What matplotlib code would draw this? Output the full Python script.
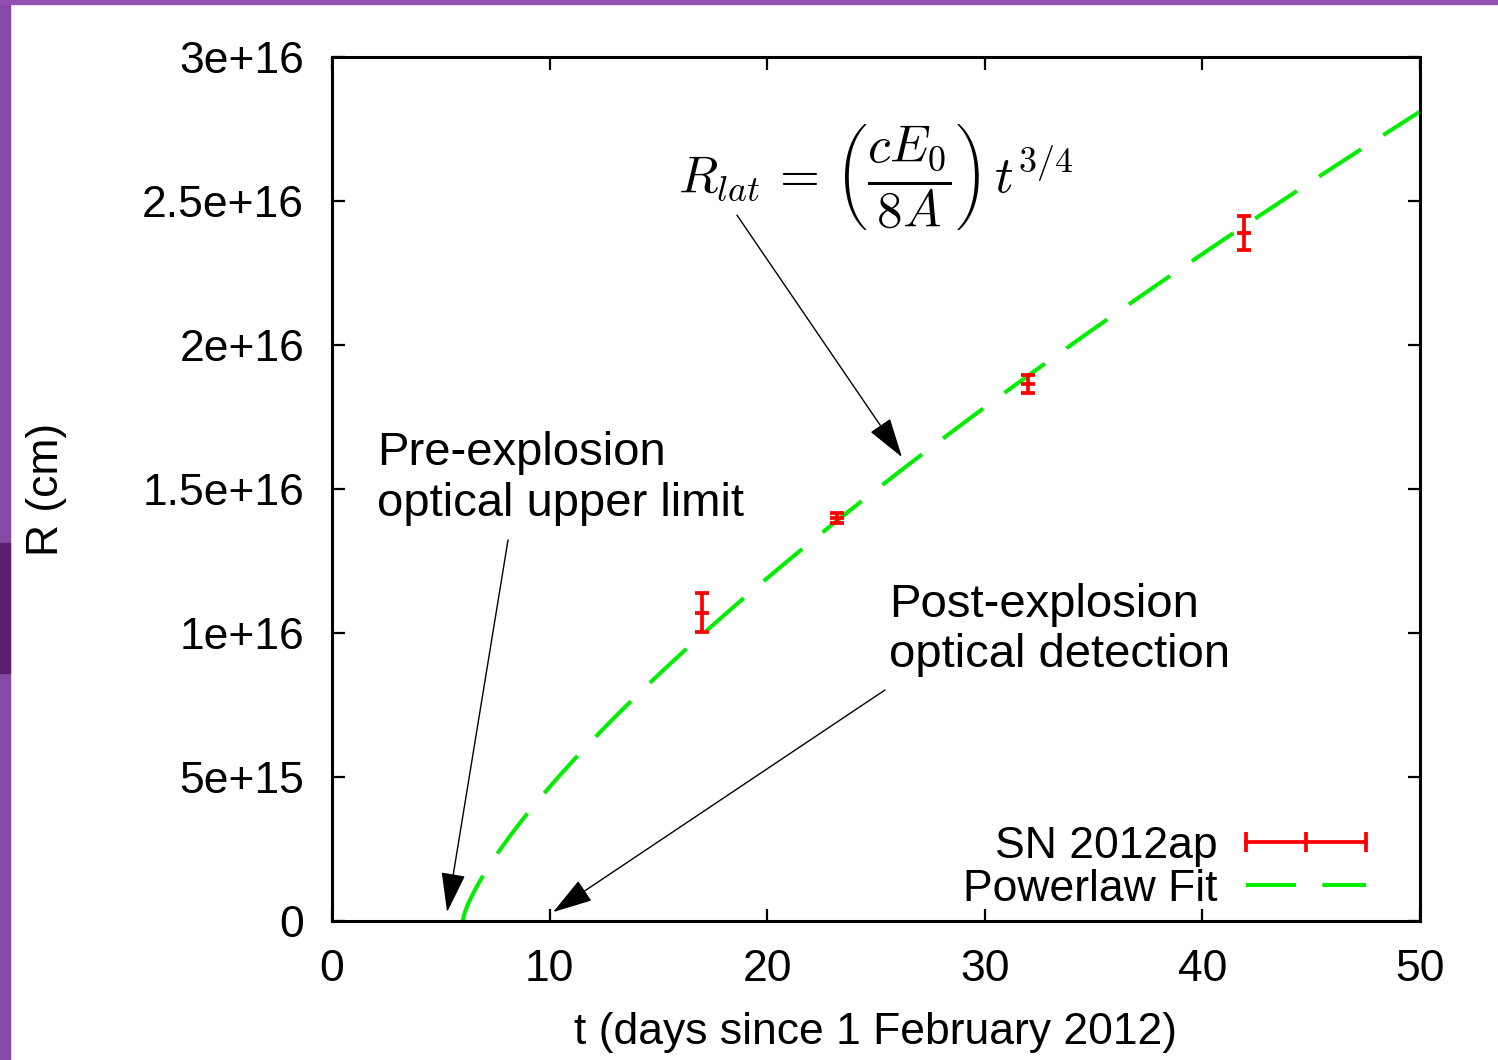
import matplotlib
matplotlib.use("Agg")
import matplotlib.pyplot as plt
import numpy as np
from matplotlib.lines import Line2D
from matplotlib.patches import Rectangle

plt.rcParams['font.family'] = ['Liberation Sans', 'DejaVu Sans']
plt.rcParams['mathtext.fontset'] = 'cm'
plt.rcParams['lines.scale_dashes'] = False

# SN 2012ap radius measurements
t_days = [17.0, 23.2, 32.0, 41.9]
radius = [1.07e16, 1.40e16, 1.865e16, 2.39e16]
radius_err = [6.8e14, 1.8e14, 3.2e14, 5.9e14]

# powerlaw fit R = K (t - t0)^(3/4)
fit_t0 = 6.0
fit_K = 1.645e15
fit_index = 0.75

x_ticks = [0, 10, 20, 30, 40, 50]
y_ticks = [0, 5e15, 1e16, 1.5e16, 2e16, 2.5e16, 3e16]
y_tick_labels = ["0", "5e+15", "1e+16", "1.5e+16", "2e+16", "2.5e+16", "3e+16"]

fig = plt.figure(figsize=(14.98, 10.6), dpi=100)
fig.patches.append(Rectangle((0, 0), 10 / 1498, 1, transform=fig.transFigure, color="#8a48a6", zorder=-5))
fig.patches.append(Rectangle((0, 1 - 4 / 1060), 1, 4 / 1060, transform=fig.transFigure, color="#9450b0", zorder=-5))
fig.patches.append(Rectangle((0, 1 - 673 / 1060), 10 / 1498, 130 / 1060, transform=fig.transFigure, color="#5c1f6e", zorder=-4))

ax = fig.add_axes([332 / 1498, 1 - 921 / 1060, 1088 / 1498, 864 / 1060])

tt = np.linspace(fit_t0, 50, 400)
fit_line, = ax.plot(tt, fit_K * (tt - fit_t0) ** fit_index, color="#00ee00", lw=2.9,
                    dashes=[36, 19], label="Powerlaw Fit", zorder=2)

ax.errorbar(t_days, radius, yerr=radius_err, fmt="none", ecolor="red", elinewidth=2.7,
            capsize=5, capthick=2.7, zorder=3)
ax.plot(t_days, radius, ls="none", marker="_", ms=10, mew=2.7, color="red", zorder=3)

ax.set_xlim(0, 50)
ax.set_ylim(0, 3e16)
ax.set_xticks(x_ticks)
ax.set_yticks(y_ticks)
ax.set_yticklabels(y_tick_labels)
ax.tick_params(direction="in", length=9, width=1.6, labelsize=32, top=True, right=True)
ax.tick_params(axis="y", pad=20)
ax.tick_params(axis="x", pad=20)
for s in ax.spines.values():
    s.set_linewidth(2.2)

ax.set_xlabel("t (days since 1 February 2012)", fontsize=32, labelpad=16)
ax.set_ylabel("R (cm)", fontsize=32, labelpad=54)

# legend
err_handle = Line2D([], [], color="red", lw=2.7, marker="|", ms=14, mew=2.7)
ax.legend([err_handle, fit_line], ["SN 2012ap", "Powerlaw Fit"], loc="lower right",
          bbox_to_anchor=(0.963, 0.0127), frameon=False, fontsize=32, markerfirst=False,
          numpoints=3, handlelength=3.3, handletextpad=0.35, labelspacing=0.05,
          borderpad=0.0, borderaxespad=0.0)

# formula and annotations
ax.text(25.0, 2.585e16, r"$R_{lat}\,=\,\left(\dfrac{cE_0}{8A}\right)\,t^{3/4}$",
        fontsize=37, ha="center", va="center")
ax.text(2.07, 1.70e16, "Pre-explosion\noptical upper limit", fontsize=34,
        ha="left", va="top", linespacing=1.2)
ax.text(25.6, 1.175e16, "Post-explosion\noptical detection", fontsize=34,
        ha="left", va="top", linespacing=1.2)

arrow = dict(arrowstyle="-|>,head_length=1.8,head_width=0.55", lw=1, color="black",
             mutation_scale=14, shrinkA=0, shrinkB=0)
ax.annotate("", xy=(5.29, 3.1e14), xytext=(8.09, 1.323e16), arrowprops=arrow)
ax.annotate("", xy=(10.16, 3.1e14), xytext=(25.41, 8.02e15), arrowprops=arrow)
ax.annotate("", xy=(26.19, 1.611e16), xytext=(18.61, 2.451e16), arrowprops=arrow)

fig.savefig("out.png", dpi=100)
